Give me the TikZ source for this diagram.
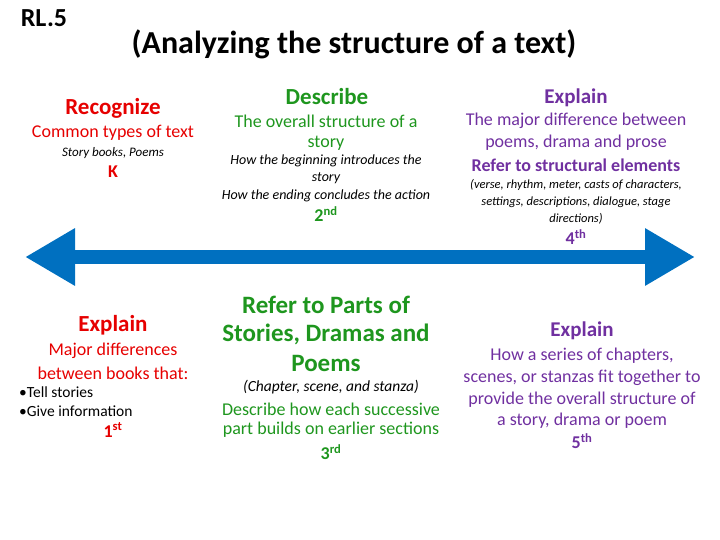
\documentclass[tikz,border=0pt]{standalone}
\usepackage{fontspec}
\setmainfont{Carlito}
\usetikzlibrary{arrows.meta}
\definecolor{rred}{RGB}{230,0,0}
\definecolor{ggreen}{RGB}{30,150,30}
\definecolor{ppurple}{RGB}{112,48,160}
\definecolor{bblue}{RGB}{0,112,192}
\tikzset{
  hd/.style={font=\fontsize{23}{26}\selectfont\bfseries},
  bd/.style={font=\fontsize{18}{21}\selectfont},
  sm/.style={font=\fontsize{14}{16}\selectfont\itshape},
  nb/.style={font=\fontsize{18}{21}\selectfont\bfseries},
}
\begin{document}
\begin{tikzpicture}[x=1pt,y=-1pt,inner sep=0pt]
\useasboundingbox (0,0) rectangle (720,540);
\node[font=\fontsize{26}{30}\selectfont\bfseries] (rl) at (44,18) {RL.5};
\node[font=\fontsize{32}{36}\selectfont\bfseries] (title) at (354,44) {(Analyzing the structure of a text)};
% top left
\node[hd,rred] (rec) at (113,108) {Recognize};
\node[bd,rred] (rec1) at (113,133) {Common types of text};
\node[sm,font=\fontsize{13}{15}\selectfont\itshape] (rec2) at (113,153) {Story books, Poems};
\node[nb,rred] (recK) at (113,172) {K};
% top middle
\node[hd,ggreen] (des) at (327,97) {Describe};
\node[bd,ggreen] (des1) at (326,121) {The overall structure of a};
\node[bd,ggreen] (des2) at (326,143) {story};
\node[sm] (des3) at (326,161) {How the beginning introduces the};
\node[sm] (des4) at (326,178) {story};
\node[sm] (des5) at (326,196) {How the ending concludes the action};
\node[nb,ggreen] (des6) at (326,214) {2\textsuperscript{nd}};
% top right
\node[hd,font=\fontsize{21}{24}\selectfont\bfseries,ppurple] (exa) at (576,98) {Explain};
\node[bd,ppurple] (exa1) at (576,121) {The major difference between};
\node[bd,ppurple] (exa2) at (576,143) {poems, drama and prose};
\node[nb,ppurple] (exa3) at (576,165) {Refer to structural elements};
\node[sm,font=\fontsize{12.5}{15}\selectfont\itshape] (exa4) at (576,185) {(verse, rhythm, meter, casts of characters,};
\node[sm,font=\fontsize{12.5}{15}\selectfont\itshape] (exa5) at (576,202) {settings, descriptions, dialogue, stage};
\node[sm,font=\fontsize{12.5}{15}\selectfont\itshape] (exa6) at (576,219) {directions)};
\node[nb,ppurple] (exa7) at (576,237) {4\textsuperscript{th}};
% arrow
\coordinate (la) at (25,257);
\coordinate (ra) at (695,257);
\draw[bblue,line width=14pt,{Triangle[width=54pt,length=50pt]}-{Triangle[width=54pt,length=50pt]}] (la) -- (ra);
% bottom left
\node[hd,rred] (exb) at (113,325) {Explain};
\node[bd,rred] (exb1) at (113,351) {Major differences};
\node[bd,rred] (exb2) at (113,373) {between books that:};
\node[font=\fontsize{15.5}{18}\selectfont,anchor=west] (exb3) at (19,392) {•Tell stories};
\node[font=\fontsize{15.5}{18}\selectfont,anchor=west] (exb4) at (19,411) {•Give information};
\node[nb,rred] (exb5) at (113,430) {1\textsuperscript{st}};
% bottom middle
\node[font=\fontsize{25}{29}\selectfont\bfseries,ggreen] (ref1) at (326,305) {Refer to Parts of};
\node[font=\fontsize{25}{29}\selectfont\bfseries,ggreen] (ref2) at (326,334) {Stories, Dramas and};
\node[font=\fontsize{25}{29}\selectfont\bfseries,ggreen] (ref3) at (326,363) {Poems};
\node[font=\fontsize{15.5}{18}\selectfont\itshape] (ref4) at (331,387) {(Chapter, scene, and stanza)};
\node[bd,ggreen] (ref5) at (331,409) {Describe how each successive};
\node[bd,ggreen] (ref6) at (331,430) {part builds on earlier sections};
\node[nb,ggreen] (ref7) at (331,452) {3\textsuperscript{rd}};
% bottom right
\node[hd,font=\fontsize{21}{24}\selectfont\bfseries,ppurple] (exc) at (582,331) {Explain};
\node[bd,ppurple] (exc1) at (582,356) {How a series of chapters,};
\node[bd,ppurple] (exc2) at (582,378) {scenes, or stanzas fit together to};
\node[bd,ppurple] (exc3) at (582,400) {provide the overall structure of};
\node[bd,ppurple] (exc4) at (582,421) {a story, drama or poem};
\node[nb,ppurple] (exc5) at (582,441) {5\textsuperscript{th}};
\end{tikzpicture}
\end{document}
